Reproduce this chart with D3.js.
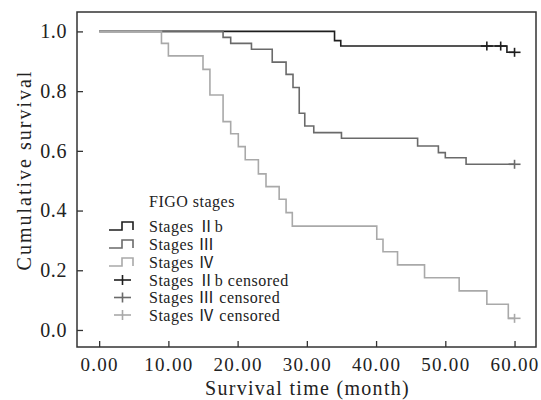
<!DOCTYPE html>
<html>
<head>
<meta charset="utf-8">
<script src="https://cdn.jsdelivr.net/npm/d3@7"></script>
<style>
  html, body { margin: 0; padding: 0; background: #fff; }
  svg { display: block; }
  text { font-family: "Liberation Serif", "Noto Sans CJK SC", serif; fill: #222; }
</style>
</head>
<body>
<script>
// ---- data ----
const iibTimes = [0, 34.0, 34.9, 58.9, 60.0];
const iibSurv  = [1.000, 0.969, 0.951, 0.930, 0.930];
const iibCensored = [56.0, 58.0, 60.0];

const iiiTimes = [0, 17.9, 19.0, 22.0, 25.0, 27.0, 28.0, 28.9, 29.7, 31.0, 35.0, 46.0, 49.0, 50.0, 53.0, 60.0];
const iiiSurv  = [1.000, 0.980, 0.960, 0.940, 0.897, 0.856, 0.812, 0.726, 0.683, 0.661, 0.642, 0.616, 0.594, 0.577, 0.555, 0.555];
const iiiCensored = [60.0];

const ivTimes = [0, 9.0, 10.0, 15.0, 16.0, 17.9, 19.0, 20.1, 21.1, 23.0, 24.1, 26.0, 27.0, 27.9, 40.1, 41.0, 43.1, 47.0, 52.0, 56.0, 59.1, 60.0];
const ivSurv  = [1.000, 0.960, 0.918, 0.873, 0.787, 0.698, 0.657, 0.614, 0.570, 0.523, 0.480, 0.438, 0.393, 0.348, 0.304, 0.262, 0.218, 0.175, 0.131, 0.086, 0.039, 0.039];
const ivCensored = [60.0];

const xTicks = [0, 10, 20, 30, 40, 50, 60];
const yTicks = [0.0, 0.2, 0.4, 0.6, 0.8, 1.0];

const seriesNames = ["Stages \u2161b", "Stages \u2162", "Stages \u2163"];
const censoredNames = ["Stages \u2161b censored", "Stages \u2162 censored", "Stages \u2163 censored"];
const legendTitle = "FIGO stages";
const xTitle = "Survival time (month)";
const yTitle = "Cumulative survival";
const colors = ["#1e1e1e", "#6a6a6a", "#a9a9a9"];

// ---- layout ----
const W = 541, H = 400;
const pL = 77, pR = 536, pT = 12, pB = 347;

const x = d3.scaleLinear().domain([-3.2, 63.1]).range([pL, pR]);
const y = d3.scaleLinear().domain([-0.057, 1.065]).range([pB, pT]);

const svg = d3.select("body").append("svg").attr("width", W).attr("height", H);

// frame
svg.append("rect").attr("x", pL).attr("y", pT)
  .attr("width", pR - pL).attr("height", pB - pT)
  .attr("fill", "none").attr("stroke", "#333").attr("stroke-width", 1.5);

// axes
const xAxis = d3.axisBottom(x).tickValues(xTicks).tickFormat(d3.format(".2f"))
  .tickSizeInner(-6).tickSizeOuter(0).tickPadding(11);
const gx = svg.append("g").attr("transform", `translate(0,${pB})`).call(xAxis);
gx.select(".domain").remove();
gx.selectAll("line").attr("stroke", "#333").attr("stroke-width", 1.3);
gx.selectAll("text").attr("font-size", 19).attr("fill", "#222")
  .style("letter-spacing", "1.3px")
  .style("font-family", '"Liberation Serif", serif');

const yAxis = d3.axisLeft(y).tickValues(yTicks).tickFormat(d3.format(".1f"))
  .tickSizeInner(-6).tickSizeOuter(0).tickPadding(10);
const gy = svg.append("g").attr("transform", `translate(${pL},0)`).call(yAxis);
gy.select(".domain").remove();
gy.selectAll("line").attr("stroke", "#333").attr("stroke-width", 1.3);
gy.selectAll("text").attr("font-size", 20).attr("fill", "#222")
  .style("letter-spacing", "0.6px")
  .style("font-family", '"Liberation Serif", serif');

// titles
svg.append("text").attr("x", (pL + pR) / 2 + 1).attr("y", 395)
  .attr("text-anchor", "middle").attr("font-size", 20)
  .style("letter-spacing", "1.3px").text(xTitle);
svg.append("text").attr("transform", `translate(31,170) rotate(-90)`)
  .attr("text-anchor", "middle").attr("font-size", 20)
  .style("letter-spacing", "2px").text(yTitle);

// curves
const series = [
  { t: iibTimes, s: iibSurv, c: iibCensored },
  { t: iiiTimes, s: iiiSurv, c: iiiCensored },
  { t: ivTimes, s: ivSurv, c: ivCensored }
];
const line = d3.line().x(d => x(d[0])).y(d => y(d[1])).curve(d3.curveStepAfter);

function survAt(ser, t) {
  let v = ser.s[0];
  for (let i = 0; i < ser.t.length; i++) if (ser.t[i] <= t) v = ser.s[i];
  return v;
}

series.forEach((ser, i) => {
  const pts = ser.t.map((t, j) => [t, ser.s[j]]);
  svg.append("path").attr("d", line(pts)).attr("fill", "none")
    .attr("stroke", colors[i]).attr("stroke-width", 1.6);
  ser.c.forEach(t => {
    const cx = x(t), cy = y(survAt(ser, t));
    const g = svg.append("g").attr("stroke", colors[i]).attr("stroke-width", 1.6);
    g.append("line").attr("x1", cx - 6).attr("x2", cx + 6).attr("y1", cy).attr("y2", cy);
    g.append("line").attr("x1", cx).attr("x2", cx).attr("y1", cy - 4.5).attr("y2", cy + 4.5);
  });
});

// legend
const lgX = 149, symX = 109;
const lgFont = 16, lgSpace = "0.5px";
svg.append("text").attr("x", lgX).attr("y", 207).attr("font-size", lgFont)
  .style("letter-spacing", lgSpace).text(legendTitle);
const rowY = [226, 244, 262, 280, 297.5, 315];
seriesNames.forEach((n, i) => {
  const cy = rowY[i];
  svg.append("path")
    .attr("d", `M${symX},${cy + 4} H${symX + 13} V${cy - 4} H${symX + 24} V${cy + 4}`)
    .attr("fill", "none").attr("stroke", colors[i]).attr("stroke-width", 1.6);
  svg.append("text").attr("x", lgX).attr("y", cy + 5.5).attr("font-size", lgFont)
    .style("letter-spacing", lgSpace).text(n);
});
censoredNames.forEach((n, i) => {
  const cy = rowY[i + 3];
  const g = svg.append("g").attr("stroke", colors[i]).attr("stroke-width", 1.6);
  g.append("line").attr("x1", 114).attr("x2", 131).attr("y1", cy).attr("y2", cy);
  g.append("line").attr("x1", 122.5).attr("x2", 122.5).attr("y1", cy - 5).attr("y2", cy + 5);
  svg.append("text").attr("x", lgX).attr("y", cy + 5.5).attr("font-size", lgFont)
    .style("letter-spacing", lgSpace).text(n);
});
</script>
</body>
</html>
